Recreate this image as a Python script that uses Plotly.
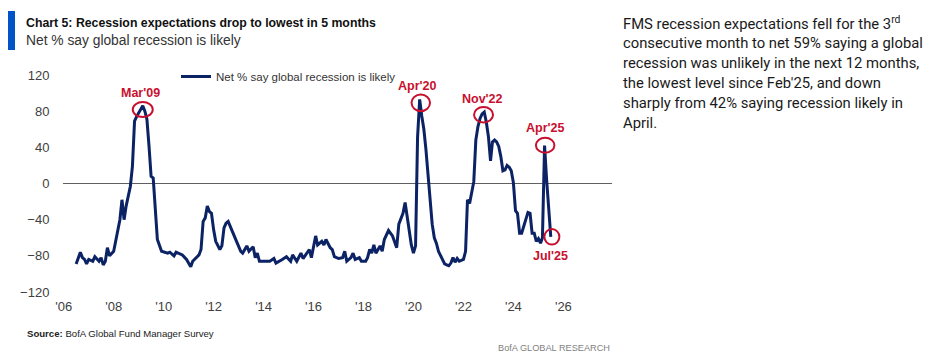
import plotly.graph_objects as go

# ---------------- data ----------------
months = [
    "2006-07", "2006-09", "2006-10", "2006-11", "2006-12",
    "2007-01", "2007-03", "2007-04", "2007-06", "2007-07", "2007-08", "2007-09", "2007-10", "2007-11",
    "2008-01", "2008-02", "2008-04", "2008-05", "2008-06", "2008-07", "2008-09", "2008-10", "2008-11", "2008-12",
    "2009-02", "2009-03", "2009-04", "2009-05", "2009-06", "2009-07", "2009-08", "2009-09", "2009-10", "2009-12",
    "2010-03", "2010-04", "2010-06", "2010-07", "2010-10", "2010-12",
    "2011-02", "2011-03", "2011-06", "2011-07", "2011-08", "2011-09", "2011-10", "2011-11", "2011-12",
    "2012-01", "2012-02", "2012-04", "2012-05", "2012-06", "2012-07", "2012-08", "2012-09", "2012-10", "2012-12",
    "2013-02", "2013-03", "2013-05", "2013-06", "2013-08", "2013-09", "2013-10", "2013-11",
    "2014-02", "2014-04", "2014-06", "2014-07", "2014-10", "2014-12",
    "2015-02", "2015-03", "2015-05", "2015-07", "2015-08", "2015-11", "2015-12",
    "2016-02", "2016-03", "2016-05", "2016-06", "2016-07", "2016-09", "2016-10", "2016-11",
    "2017-01", "2017-03", "2017-04", "2017-05", "2017-07", "2017-08", "2017-09", "2017-11", "2017-12",
    "2018-02", "2018-03", "2018-04", "2018-05", "2018-06", "2018-07", "2018-09", "2018-10", "2018-11",
    "2019-01", "2019-03", "2019-04", "2019-05", "2019-06", "2019-08", "2019-09", "2019-11", "2019-12",
    "2020-01", "2020-02", "2020-03", "2020-04", "2020-05", "2020-06", "2020-07", "2020-08", "2020-09", "2020-10", "2020-11", "2020-12",
    "2021-01", "2021-02", "2021-03", "2021-04", "2021-05", "2021-06", "2021-07", "2021-08", "2021-09", "2021-10", "2021-11", "2021-12",
    "2022-01", "2022-02", "2022-03", "2022-04", "2022-05", "2022-06", "2022-07", "2022-08", "2022-09", "2022-10", "2022-11", "2022-12",
    "2023-01", "2023-02", "2023-03", "2023-04", "2023-05", "2023-06", "2023-07", "2023-08", "2023-09", "2023-10", "2023-11", "2023-12",
    "2024-01", "2024-02", "2024-03", "2024-04", "2024-05", "2024-06", "2024-07", "2024-08", "2024-09", "2024-10", "2024-11", "2024-12",
    "2025-01", "2025-02", "2025-03", "2025-04", "2025-05", "2025-06", "2025-07",
]
net_recession = [
    -89, -76, -82, -84, -89,
    -84, -86, -81, -86, -82, -90, -86, -71, -80,
    -75, -62, -40, -18, -40, -25, -3, 19, 69, 74,
    82, 86, 80, 71, 41, 8, 6, -34, -62, -75,
    -77, -76, -80, -76, -79, -84,
    -92, -86, -79, -73, -42, -38, -25, -31, -33,
    -51, -64, -73, -69, -49, -44, -42, -47, -53, -64,
    -75, -77, -69, -75, -70, -82, -77, -86,
    -86, -86, -83, -88, -84, -81,
    -86, -79, -86, -77, -83, -73, -82,
    -58, -68, -64, -68, -62, -71, -73, -81,
    -83, -82, -75, -86, -82, -77, -84, -82, -86,
    -86, -82, -73, -77, -68, -77, -69, -75, -62,
    -52, -58, -64, -71, -45, -33, -21, -51, -68,
    -77, -69, 51, 93, 75, 60, 38, 10, -22, -45, -60, -66,
    -75, -80, -85, -89, -90, -91, -88, -82, -87, -83, -86, -85,
    -84, -75, -18, -22, -8, 2, 48, 63, 72, 77, 79, 68,
    52, 25, 46, 48, 46, 41, 30, 14, 15, 20, 18, 14,
    1, -30, -33, -55, -55, -47, -38, -32, -33, -55, -55, -64,
    -61, -66, -60, 42, 4, -31, -59,
]
assert len(months) == len(net_recession)

tick_dates = ["2006-01-01", "2008-01-01", "2010-01-01", "2012-01-01", "2014-01-01", "2016-01-01",
              "2018-01-01", "2020-01-01", "2022-01-01", "2024-01-01", "2026-01-01"]
tick_labels = ["'06", "'08", "'10", "'12", "'14", "'16", "'18", "'20", "'22", "'24", "'26"]
y_ticks = [-120, -80, -40, 0, 40, 80, 120]

callout_months = ["2009-03", "2020-04", "2022-11", "2025-04", "2025-07"]
callout_labels = ["Mar'09", "Apr'20", "Nov'22", "Apr'25", "Jul'25"]

series_name = "Net % say global recession is likely"
title_text = "Chart 5: Recession expectations drop to lowest in 5 months"
subtitle_text = "Net % say global recession is likely"
source_text = "<b>Source:</b> BofA Global Fund Manager Survey"
brand_text = "BofA GLOBAL RESEARCH"
commentary_lines = [
    "FMS recession expectations fell for the 3<sup>rd</sup>",
    "consecutive month to net 59% saying a global",
    "recession was unlikely in the next 12 months,",
    "the lowest level since Feb'25, and down",
    "sharply from 42% saying recession likely in",
    "April.",
]

# ---------------- styling / layout ----------------
W, H = 940, 364
L, R, T, B = 63, 328, 75, 72
PW, PH = W - L - R, H - T - B

def px(x):
    return (x - L) / PW

def py(y):
    return (H - B - y) / PH

NAVY = "#0B2265"
RED = "#C8102E"
SANS = "Liberation Sans, Arial, sans-serif"
BODY = "Roboto, Noto Sans, sans-serif"

dates = [m + "-01" for m in months]

fig = go.Figure()
fig.add_trace(go.Scatter(
    x=dates, y=net_recession, mode="lines", name=series_name,
    line=dict(color=NAVY, width=3), showlegend=True,
))

# callouts: label offsets (px) and circle geometry (px)
label_shift = [(-2, 13), (-3, 13), (-2, 13.5), (0, 18), (0, -19)]
circle_geom = [  # dx, dy, w, h
    (0, -3.8, 20, 15), (1.1, -3.4, 18.5, 16.5), (-0.7, -2.7, 19, 15.5),
    (0.6, 0.3, 18.5, 15), (1.1, 0, 15, 15.5),
]
value_by_month = dict(zip(months, net_recession))
annotations = []
shapes = []
for m, lab, (dx, dy), (cdx, cdy, cw, ch) in zip(callout_months, callout_labels, label_shift, circle_geom):
    v = value_by_month[m]
    annotations.append(dict(
        x=m + "-01", y=v, xref="x", yref="y", text=f"<b>{lab}</b>", showarrow=False,
        xshift=dx, yshift=dy, font=dict(family=SANS, size=12.5, color=RED),
    ))
    shapes.append(dict(
        type="circle", xref="x", yref="y", xsizemode="pixel", ysizemode="pixel",
        xanchor=m + "-01", yanchor=v,
        x0=cdx - cw / 2, x1=cdx + cw / 2, y0=cdy - ch / 2, y1=cdy + ch / 2,
        line=dict(color=RED, width=2),
    ))

# title bar
shapes.append(dict(type="rect", xref="paper", yref="paper",
                   x0=px(8), x1=px(15), y0=py(50), y1=py(11),
                   fillcolor="#0054C8", line=dict(width=0)))

annotations += [
    dict(x=px(24), y=py(22.5), xref="paper", yref="paper", xanchor="left", yanchor="middle",
         text=f"<b>{title_text}</b>", showarrow=False,
         font=dict(family=SANS, size=12.3, color="#111111")),
    dict(x=px(24), y=py(40.5), xref="paper", yref="paper", xanchor="left", yanchor="middle",
         text=subtitle_text, showarrow=False,
         font=dict(family=SANS, size=13.8, color="#333333")),
    dict(x=px(25), y=py(333), xref="paper", yref="paper", xanchor="left", yanchor="middle",
         text=source_text, showarrow=False,
         font=dict(family=SANS, size=9.6, color="#222222")),
    dict(x=px(612), y=py(348), xref="paper", yref="paper", xanchor="right", yanchor="middle",
         text=brand_text, showarrow=False,
         font=dict(family=SANS, size=9.2, color="#7F7F7F")),
]
for i, line in enumerate(commentary_lines):
    annotations.append(dict(
        x=px(621), y=py(23 + 20 * i), xref="paper", yref="paper", xanchor="left", yanchor="middle",
        text=line, showarrow=False, font=dict(family=BODY, size=14.8, color="#1A1A1A"),
    ))

fig.update_layout(
    width=W, height=H, margin=dict(l=L, r=R, t=T, b=B, pad=0),
    paper_bgcolor="white", plot_bgcolor="white",
    showlegend=True,
    legend=dict(x=px(176), y=py(62), xanchor="left", yanchor="top", orientation="h",
                bgcolor="rgba(0,0,0,0)", font=dict(family=SANS, size=11.5, color="#333333"),
                itemwidth=30),
    xaxis=dict(type="date", range=["2005-12-21", "2027-12-13"], tickvals=tick_dates, ticktext=tick_labels,
               showgrid=False, zeroline=False, showline=False, ticks="outside", ticklen=2,
               tickcolor="rgba(0,0,0,0)", tickfont=dict(family=SANS, size=13, color="#404040")),
    yaxis=dict(range=[-120, 120], tickvals=y_ticks, showgrid=False, zeroline=True,
               zerolinecolor="#606060", zerolinewidth=1.3, showline=False, ticks="outside",
               ticklen=10, tickcolor="rgba(0,0,0,0)",
               tickfont=dict(family=SANS, size=13, color="#404040")),
    annotations=annotations, shapes=shapes,
)

fig.write_html("out.html", config={"displayModeBar": False},
               post_script="document.body.style.margin='0px';")
